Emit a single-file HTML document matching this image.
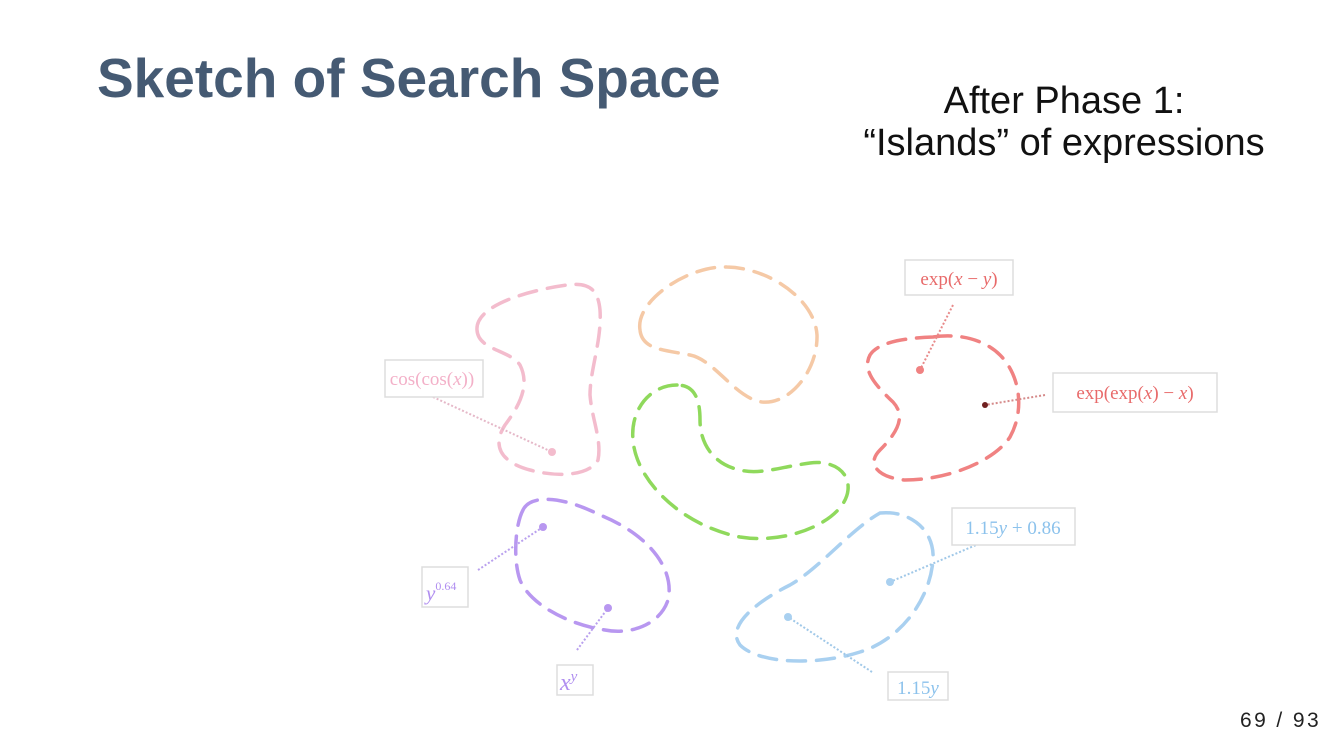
<!DOCTYPE html>
<html><head><meta charset="utf-8"><style>
html,body{margin:0;padding:0;background:#fff;}
body{width:1334px;height:750px;position:relative;overflow:hidden;font-family:"Liberation Sans",sans-serif;}
#title{position:absolute;left:97px;top:46px;font-size:55px;line-height:64px;font-weight:bold;color:#455a73;margin:0;}
#sub{position:absolute;left:800px;top:80px;width:528px;text-align:center;font-size:38px;line-height:42px;color:#111;}
#pg{position:absolute;left:1240px;top:709px;font-size:21px;color:#222;letter-spacing:2.4px;}
svg{position:absolute;left:0;top:0;}
.lbl{font-family:"Liberation Serif",serif;font-size:19px;}
</style></head><body>
<h1 id="title">Sketch of Search Space</h1>
<div id="sub">After Phase 1:<br>“Islands” of expressions</div>
<div id="pg">69 / 93</div>
<svg width="1334" height="750" fill="none" stroke-width="3.5" stroke-dasharray="18 11" stroke-linecap="round">
<path stroke="#f3bccd" d="M477,330 C475,305 530,290 567,285 C590,282 598,290 600,310 C602,340 590,370 590,395 C592,420 602,440 598,460 C590,475 560,478 530,470 C500,462 492,445 505,425 C520,405 530,385 520,365 C510,350 478,350 477,330 Z"/>
<path stroke="#f5c9a6" d="M640,330 C635,300 690,265 727,267 C770,268 815,300 817,335 C818,370 790,405 762,402 C735,398 715,360 690,355 C665,350 642,350 640,330 Z"/>
<path stroke="#8fd95c" d="M677,385 C650,385 630,410 633,440 C636,480 680,525 740,537 C790,545 845,520 848,490 C850,470 830,460 810,463 C780,467 760,475 740,470 C715,465 700,445 700,420 C700,400 695,385 677,385 Z"/>
<path stroke="#b897f0" d="M523,510 C530,495 560,495 600,515 C650,535 675,570 668,600 C660,625 630,635 605,630 C570,625 530,605 520,580 C513,560 515,525 523,510 Z"/>
<path stroke="#a9d0f0" d="M880,513 C910,510 935,530 933,560 C930,600 900,640 860,652 C820,665 760,665 740,645 C725,625 760,600 790,585 C820,568 850,530 880,513 Z"/>
<path stroke="#f08282" d="M933,337 C960,333 985,340 1000,355 C1020,375 1025,410 1010,437 C995,460 950,480 905,480 C880,478 865,465 880,450 C900,430 905,415 893,402 C875,385 862,370 870,355 C878,342 905,338 933,337 Z"/>
<g stroke-width="2" stroke-dasharray="2 2" stroke-linecap="butt">
<line x1="433" y1="397" x2="552" y2="452" stroke="#e5b8c8"/>
<line x1="478" y1="570" x2="543" y2="527" stroke="#b9a0ee"/>
<line x1="577" y1="650" x2="608" y2="608" stroke="#b9a0ee"/>
<line x1="953" y1="305" x2="920" y2="370" stroke="#e88a8a"/>
<line x1="1045" y1="395" x2="985" y2="405" stroke="#d58a8a"/>
<line x1="983" y1="542" x2="890" y2="582" stroke="#a0c8e8"/>
<line x1="872" y1="672" x2="788" y2="617" stroke="#a0c8e8"/>
</g>
<g stroke="none">
<circle cx="552" cy="452" r="4" fill="#f3bccd"/>
<circle cx="543" cy="527" r="4" fill="#b897f0"/>
<circle cx="608" cy="608" r="4" fill="#b897f0"/>
<circle cx="920" cy="370" r="4" fill="#f08282"/>
<circle cx="985" cy="405" r="3" fill="#702020"/>
<circle cx="890" cy="582" r="4" fill="#a9d0f0"/>
<circle cx="788" cy="617" r="4" fill="#a9d0f0"/>
</g>
<g stroke="#ddd" stroke-width="1.5" stroke-dasharray="none" fill="#fff">
<rect x="385" y="360" width="98" height="37"/>
<rect x="422" y="567" width="46" height="40"/>
<rect x="557" y="665" width="36" height="30"/>
<rect x="905" y="260" width="108" height="35"/>
<rect x="1053" y="373" width="164" height="39"/>
<rect x="952" y="508" width="123" height="37"/>
<rect x="888" y="672" width="60" height="28"/>
</g>
<g stroke="none" class="lbl">
<text x="432" y="385" text-anchor="middle" fill="#f3b0c8">cos(cos(<tspan font-style="italic">x</tspan>))</text>
<text x="426" y="600" fill="#b08ef0" font-style="italic" font-size="21">y<tspan font-size="12" dy="-10" font-style="normal">0.64</tspan></text>
<text x="560" y="690" fill="#b08ef0" font-style="italic" font-size="24">x<tspan font-size="15" dy="-9">y</tspan></text>
<text x="959" y="285" text-anchor="middle" fill="#e86a6a">exp(<tspan font-style="italic">x</tspan> − <tspan font-style="italic">y</tspan>)</text>
<text x="1135" y="399" text-anchor="middle" fill="#e86a6a">exp(exp(<tspan font-style="italic">x</tspan>) − <tspan font-style="italic">x</tspan>)</text>
<text x="1013" y="534" text-anchor="middle" fill="#8cc2ec">1.15<tspan font-style="italic">y</tspan> + 0.86</text>
<text x="918" y="694" text-anchor="middle" fill="#8cc2ec">1.15<tspan font-style="italic">y</tspan></text>
</g>
</svg>
</body></html>
